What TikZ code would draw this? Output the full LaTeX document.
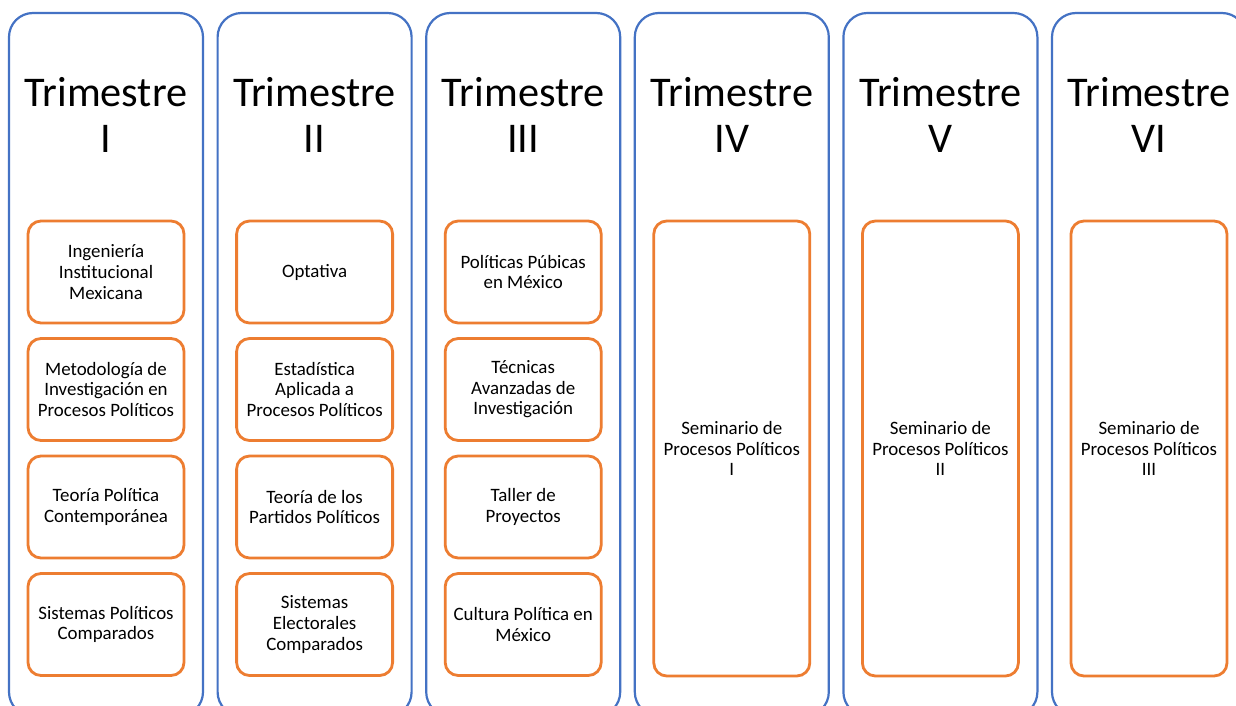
\documentclass[tikz,border=0pt]{standalone}
\usepackage{fontspec}
\setmainfont{Carlito}
\definecolor{cblue}{HTML}{4472C4}
\definecolor{corange}{HTML}{ED7D31}
\begin{document}
\begin{tikzpicture}[x=1pt,y=-1pt,
  col/.style={draw=cblue, line width=2.2pt, rounded corners=24pt, minimum width=194pt, minimum height=703pt, inner sep=0pt},
  ttl/.style={font=\fontsize{42.3}{46}\selectfont, align=center, inner sep=0pt},
  subj/.style={draw=corange, line width=2.8pt, rounded corners=13pt, minimum width=156pt, minimum height=102pt, align=center, font=\fontsize{18.9}{20.6}\selectfont, inner sep=0pt},
  sem/.style={subj, minimum height=455pt}]
\clip (0,0) rectangle (1236,706);
\fill[white] (0,0) rectangle (1236,706);
% columns
\foreach \i/\L/\r in {1/9/I,2/217.6/II,3/426.2/III,4/634.8/IV,5/843.4/V,6/1052/VI}{
  \node[col] (col\i) at (\L+97,364.5) {};
  \node[ttl] (t\i) at (\L+97,115) {Trimestre\\\r};
}
% column 1
\node[subj] (s11) at (106,272) {Ingeniería\\Institucional\\Mexicana};
\node[subj] (s12) at (106,389.5) {Metodología de\\Investigación en\\Procesos Políticos};
\node[subj] (s13) at (106,507) {Teoría Política\\Contemporánea};
\node[subj] (s14) at (106,624.5) {Sistemas Políticos\\Comparados};
% column 2
\node[subj] (s21) at (314.6,272) {Optativa};
\node[subj] (s22) at (314.6,389.5) {Estadística\\Aplicada a\\Procesos Políticos};
\node[subj] (s23) at (314.6,507) {Teoría de los\\Partidos Políticos};
\node[subj] (s24) at (314.6,624.5) {Sistemas\\Electorales\\Comparados};
% column 3
\node[subj] (s31) at (523.2,272) {Políticas Púbicas\\en México};
\node[subj] (s32) at (523.2,389.5) {Técnicas\\Avanzadas de\\Investigación};
\node[subj] (s33) at (523.2,507) {Taller de\\Proyectos};
\node[subj] (s34) at (523.2,624.5) {Cultura Política en\\México};
% seminars
\node[sem] (s4) at (731.8,448.5) {Seminario de\\Procesos Políticos\\I};
\node[sem] (s5) at (940.4,448.5) {Seminario de\\Procesos Políticos\\II};
\node[sem] (s6) at (1149,448.5) {Seminario de\\Procesos Políticos\\III};
\end{tikzpicture}
\end{document}
